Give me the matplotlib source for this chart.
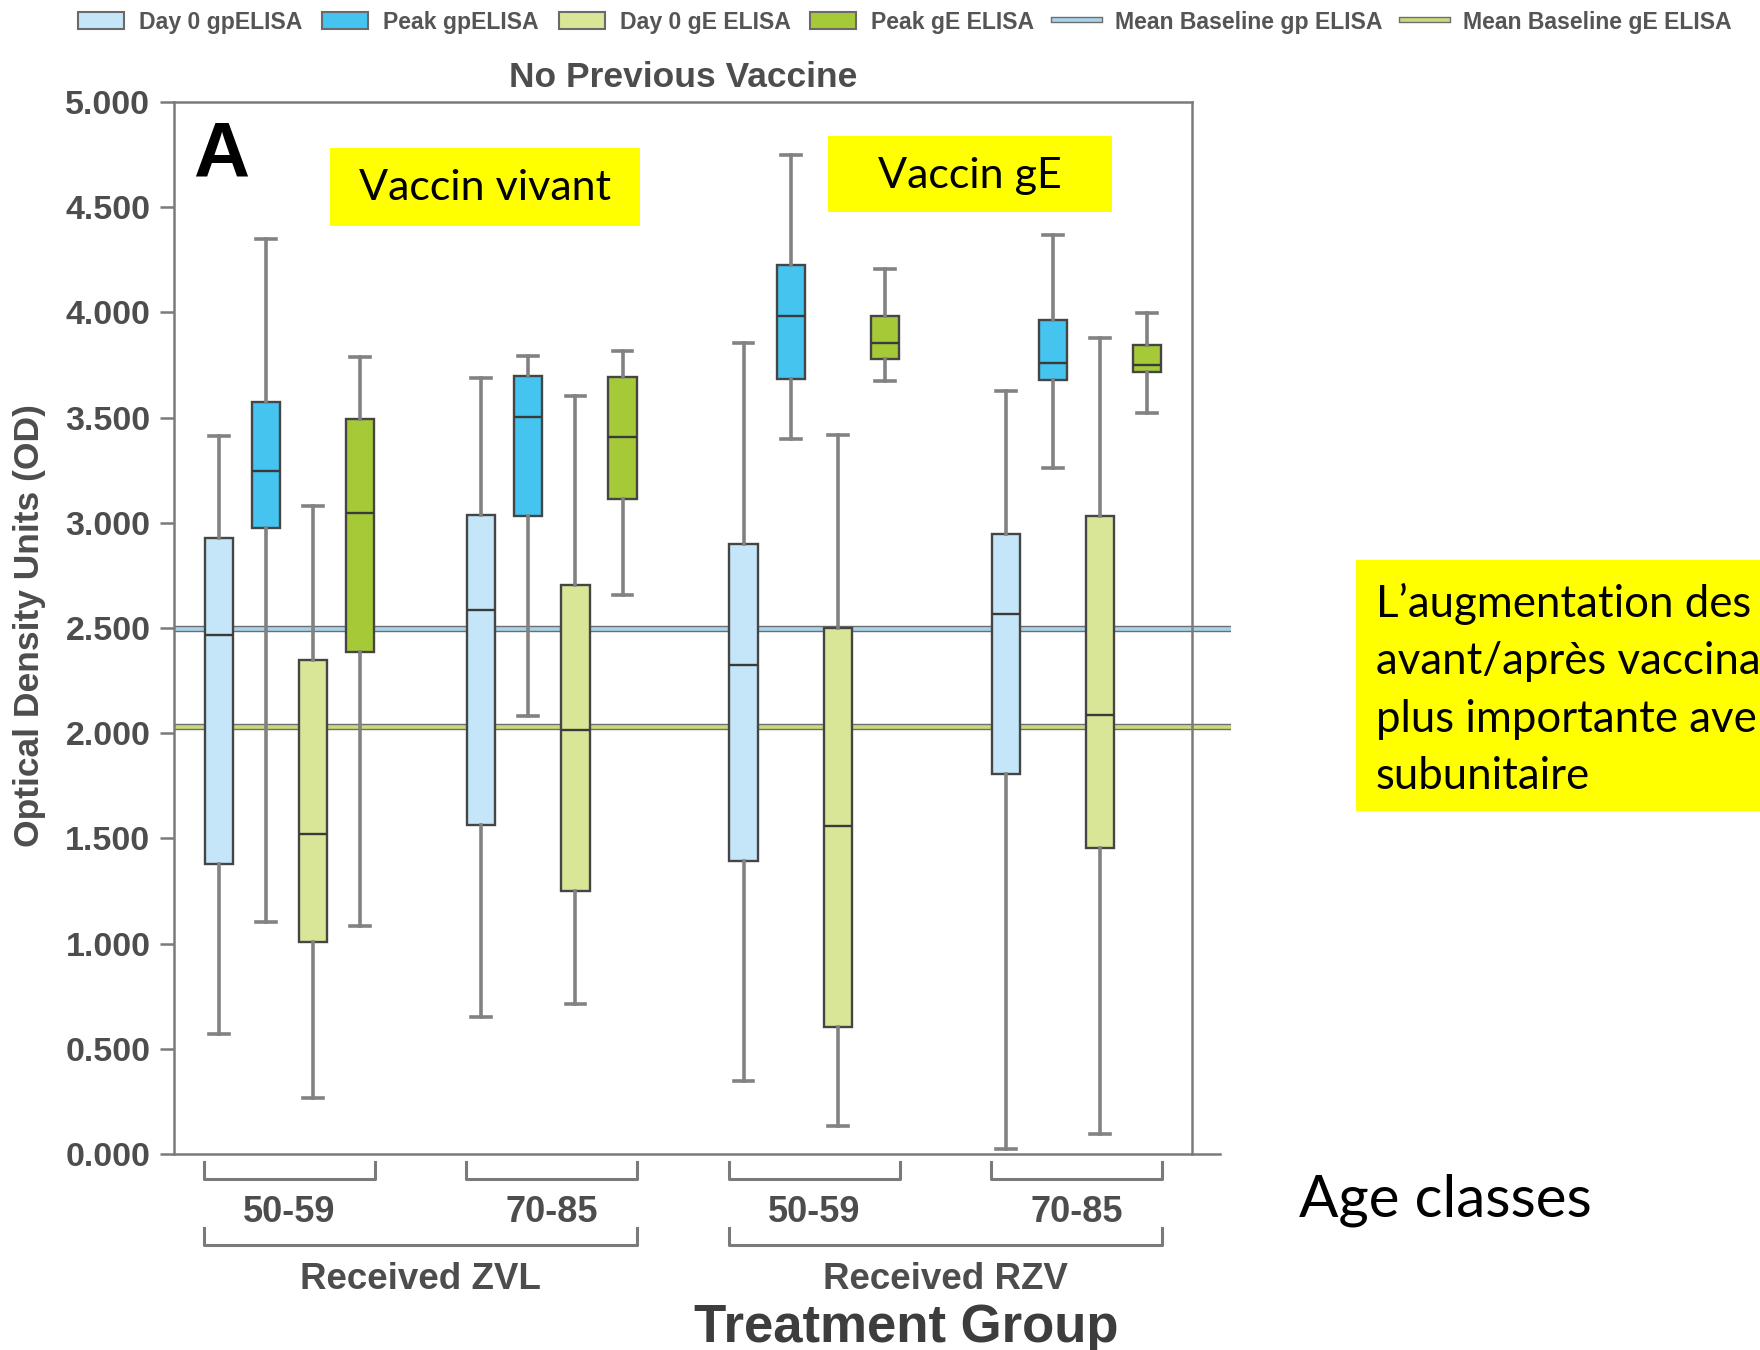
import matplotlib
matplotlib.use("Agg")
import matplotlib.pyplot as plt
from matplotlib.patches import Patch, Rectangle
from matplotlib.lines import Line2D
from matplotlib.ticker import FormatStrFormatter

plt.rcParams['font.family'] = ['Liberation Sans', 'DejaVu Sans']

# groups: ZVL 50-59, ZVL 70-85, RZV 50-59, RZV 70-85
age_labels = ['50-59', '70-85', '50-59', '70-85']
treat_labels = ['Received ZVL', 'Received RZV']
series_names = ['Day 0 gpELISA', 'Peak gpELISA', 'Day 0 gE ELISA', 'Peak gE ELISA']

# five-number summaries per series, one value per group
day0_gp = dict(whislo=[0.57, 0.65, 0.347, 0.026], q1=[1.376, 1.564, 1.394, 1.806],
               med=[2.466, 2.587, 2.323, 2.567], q3=[2.93, 3.038, 2.898, 2.945],
               whishi=[3.413, 3.687, 3.854, 3.626])
peak_gp = dict(whislo=[1.101, 2.082, 3.397, 3.262], q1=[2.976, 3.031, 3.683, 3.681],
               med=[3.248, 3.502, 3.985, 3.758], q3=[3.574, 3.697, 4.227, 3.963],
               whishi=[4.351, 3.794, 4.747, 4.366])
day0_ge = dict(whislo=[0.266, 0.711, 0.131, 0.095], q1=[1.009, 1.248, 0.604, 1.456],
               med=[1.52, 2.015, 1.557, 2.085], q3=[2.347, 2.702, 2.502, 3.03],
               whishi=[3.078, 3.605, 3.415, 3.88])
peak_ge = dict(whislo=[1.085, 2.656, 3.672, 3.521], q1=[2.384, 3.113, 3.778, 3.715],
               med=[3.046, 3.408, 3.856, 3.752], q3=[3.495, 3.694, 3.981, 3.845],
               whishi=[3.786, 3.818, 4.207, 3.995])
series_stats = [day0_gp, peak_gp, day0_ge, peak_ge]

baseline_gp = 2.497
baseline_ge = 2.029

colors = ['#c4e6f8', '#44c4ee', '#d9e597', '#a6ca37']
line_colors = ['#a9d3ea', '#c9d97c']

W, H = 1760, 1350
def fx(px):
    return px / W
def fy(py):
    return 1 - py / H

fig = plt.figure(figsize=(17.6, 13.5), dpi=100)
ax = fig.add_axes([fx(174), fy(1154), fx(1192) - fx(174), fy(102) - fy(1154)])

gstep = 5.57
axis_col = '#7a7a7a'
text_col = '#4d4d4d'

# baselines run a little past the frame
x_end = 21.49
for yv, c in [(baseline_gp, line_colors[0]), (baseline_ge, line_colors[1])]:
    ax.plot([-0.953, x_end], [yv, yv], color='#6e6e6e', lw=4.6, clip_on=False, zorder=1.5,
            solid_capstyle='butt')
    ax.plot([-0.953, x_end], [yv, yv], color=c, lw=2.6, clip_on=False, zorder=1.6,
            solid_capstyle='butt')

for k, (st, col) in enumerate(zip(series_stats, colors)):
    stats = []
    pos = []
    for g in range(4):
        stats.append(dict(whislo=st['whislo'][g], q1=st['q1'][g], med=st['med'][g],
                          q3=st['q3'][g], whishi=st['whishi'][g]))
        pos.append(g * gstep + k)
    ax.bxp(stats, positions=pos, widths=0.6, showfliers=False, patch_artist=True,
           boxprops=dict(facecolor=col, edgecolor='#454545', linewidth=1.7),
           medianprops=dict(color='#3a3a3a', linewidth=1.7),
           whiskerprops=dict(color='#828282', linewidth=2.6),
           capprops=dict(color='#828282', linewidth=2.6),
           capwidths=0.42, manage_ticks=False, zorder=2)

ax.set_xlim(-0.953, 20.66)
ax.set_ylim(0, 5)
ax.set_yticks([i * 0.5 for i in range(11)])
ax.yaxis.set_major_formatter(FormatStrFormatter('%.3f'))
ax.set_xticks([])
ax.tick_params(axis='y', length=10, width=1.8, color=axis_col, pad=7,
               labelsize=24.5, labelcolor=text_col)
for lab in ax.get_yticklabels():
    lab.set_fontweight('bold')
for side in ['left', 'top', 'right']:
    ax.spines[side].set_color(axis_col)
    ax.spines[side].set_linewidth(1.8)
ax.spines['bottom'].set_visible(False)
ax.plot([-0.953, 21.26], [0, 0], color=axis_col, lw=1.8, clip_on=False, zorder=3)

ax.set_title('No Previous Vaccine', fontsize=25.5, fontweight='bold', color=text_col, pad=11)

# brackets below the axis
trans = ax.get_xaxis_transform()
br_col = '#7a7a7a'
for g in range(4):
    x0, x1 = g * gstep - 0.32, g * gstep + 3.31
    ax.plot([x0, x0, x1, x1], [-0.0076, -0.0233, -0.0233, -0.0076], color=br_col, lw=2.2,
            transform=trans, clip_on=False)
    ax.text(g * gstep + 1.5, -0.056, age_labels[g], transform=trans, ha='center', va='center',
            fontsize=26, fontweight='bold', color=text_col)
for t in range(2):
    x0, x1 = 2 * t * gstep - 0.32, (2 * t + 1) * gstep + 3.31
    ax.plot([x0, x0, x1, x1], [-0.0703, -0.0865, -0.0865, -0.0703], color=br_col, lw=2.2,
            transform=trans, clip_on=False)
    ax.text((x0 + x1) / 2, -0.119, treat_labels[t], transform=trans, ha='center', va='center',
            fontsize=26.5, fontweight='bold', color=text_col)

fig.text(fx(906), fy(1328), 'Treatment Group', ha='center', va='center', fontsize=38,
         fontweight='bold', color='#3d3d3d')
fig.text(fx(30), fy(626), 'Optical Density Units (OD)', rotation=90, ha='center', va='center',
         fontsize=25.5, fontweight='bold', color=text_col)
fig.text(fx(221), fy(156), 'A', ha='center', va='center', fontsize=56, fontweight='bold',
         color='black')

# legend across the top
handles = [Patch(facecolor=c, edgecolor='#6a6a6a', linewidth=1.5) for c in colors]
for c in line_colors:
    handles.append((Line2D([], [], color='#6e6e6e', lw=4.6), Line2D([], [], color=c, lw=2.6)))
labels = series_names + ['Mean Baseline gp ELISA', 'Mean Baseline gE ELISA']
fig.legend(handles, labels, loc='center', bbox_to_anchor=(fx(905), fy(22)), ncol=6,
           frameon=False, prop=dict(size=16.6, weight='bold'), labelcolor='#555555',
           handlelength=2.0, handleheight=0.75, handletextpad=0.65, columnspacing=0.85)

# yellow callouts
note_font = ['Lato', 'DejaVu Sans']
for (x0, y0, x1, y1) in [(330, 148, 640, 226), (828, 136, 1112, 212), (1356, 560, 1760, 811)]:
    fig.add_artist(Rectangle((fx(x0), fy(y1)), fx(x1) - fx(x0), fy(y0) - fy(y1),
                             transform=fig.transFigure, facecolor='#ffff00', edgecolor='none',
                             zorder=5))
fig.text(fx(485), fy(188), 'Vaccin vivant', ha='center', va='center', fontsize=31,
         family=note_font, zorder=6)
fig.text(fx(970), fy(176), 'Vaccin gE', ha='center', va='center', fontsize=31,
         family=note_font, zorder=6)
note_lines = ['L’augmentation des', 'avant/après vaccina', 'plus importante ave',
              'subunitaire']
for i, s in enumerate(note_lines):
    fig.text(fx(1376), fy(604 + 57.5 * i), s, ha='left', va='center', fontsize=31.5,
             family=note_font, zorder=6)
fig.text(fx(1445), fy(1200), 'Age classes', ha='center', va='center', fontsize=42,
         family=note_font)

fig.savefig('out.png', dpi=100)
